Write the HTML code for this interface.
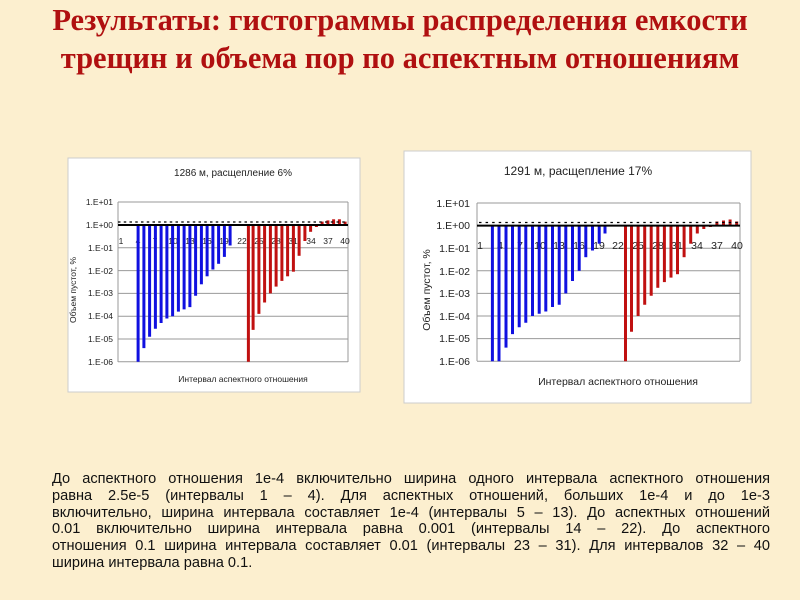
<!DOCTYPE html>
<html><head><meta charset="utf-8"><style>
body{margin:0;width:800px;height:600px;background:#fcefcf;position:relative;overflow:hidden;font-family:"Liberation Sans",sans-serif}
.t{position:absolute;left:0;width:800px;text-align:center;font-family:"Liberation Serif",serif;font-weight:bold;font-size:30.5px;color:#b01010;white-space:nowrap}
.p{position:absolute;left:52px;width:718px;top:471px;font-size:14.6px;line-height:16.8px;color:#111}
.p div{text-align:justify;text-align-last:justify;white-space:nowrap}
.p div.l{text-align-last:left}
svg{position:absolute;left:0;top:0}
</style></head><body>
<div class="t" style="top:3px">Результаты: гистограммы распределения емкости</div>
<div class="t" style="top:41px">трещин и объема пор по аспектным отношениям</div>
<svg width="800" height="600" font-family="Liberation Sans, sans-serif">
<rect x="68" y="158" width="292" height="234" fill="#fff" stroke="#ccc"/>
<text x="233" y="176" font-size="10" text-anchor="middle" fill="#222">1286 м, расщепление 6%</text>
<g stroke="#999" stroke-width="1">
<line x1="118" y1="202" x2="348" y2="202"/><line x1="118" y1="247.8" x2="348" y2="247.8"/><line x1="118" y1="270.6" x2="348" y2="270.6"/><line x1="118" y1="293.4" x2="348" y2="293.4"/><line x1="118" y1="316.2" x2="348" y2="316.2"/><line x1="118" y1="339" x2="348" y2="339"/><line x1="118" y1="361.8" x2="348" y2="361.8"/>
<line x1="348" y1="202" x2="348" y2="362"/><line x1="118" y1="202" x2="118" y2="362"/>
</g>
<g font-size="8.5" text-anchor="end" fill="#222">
<text x="113" y="205">1.E+01</text><text x="113" y="228">1.E+00</text><text x="113" y="251">1.E-01</text><text x="113" y="274">1.E-02</text><text x="113" y="296">1.E-03</text><text x="113" y="319">1.E-04</text><text x="113" y="342">1.E-05</text><text x="113" y="365">1.E-06</text>
</g>
<g font-size="8.5" text-anchor="middle" fill="#222">
<text x="121" y="244">1</text><text x="138" y="244">4</text><text x="155" y="244">7</text><text x="173" y="244">10</text><text x="190" y="244">13</text><text x="207" y="244">16</text><text x="224" y="244">19</text><text x="242" y="244">22</text><text x="259" y="244">25</text><text x="276" y="244">28</text><text x="293" y="244">31</text><text x="311" y="244">34</text><text x="328" y="244">37</text><text x="345" y="244">40</text>
</g>
<g stroke="#1010e0" stroke-width="3">
<line x1="138.1" y1="225" x2="138.1" y2="361.8"/><line x1="143.9" y1="225" x2="143.9" y2="348.1"/><line x1="149.6" y1="225" x2="149.6" y2="336.7"/><line x1="155.4" y1="225" x2="155.4" y2="328.7"/><line x1="161.1" y1="225" x2="161.1" y2="323"/><line x1="166.9" y1="225" x2="166.9" y2="318.5"/><line x1="172.6" y1="225" x2="172.6" y2="316.2"/><line x1="178.4" y1="225" x2="178.4" y2="311.6"/><line x1="184.1" y1="225" x2="184.1" y2="309.4"/><line x1="189.9" y1="225" x2="189.9" y2="307.1"/><line x1="195.6" y1="225" x2="195.6" y2="295.7"/><line x1="201.4" y1="225" x2="201.4" y2="284.3"/><line x1="207.1" y1="225" x2="207.1" y2="276.3"/><line x1="212.9" y1="225" x2="212.9" y2="269.5"/><line x1="218.6" y1="225" x2="218.6" y2="263.8"/><line x1="224.4" y1="225" x2="224.4" y2="256.9"/><line x1="230.1" y1="225" x2="230.1" y2="245.5"/>
</g>
<g stroke="#c01010" stroke-width="3">
<line x1="248.4" y1="225" x2="248.4" y2="361.8"/><line x1="253.1" y1="225" x2="253.1" y2="329.9"/><line x1="258.9" y1="225" x2="258.9" y2="313.9"/><line x1="264.6" y1="225" x2="264.6" y2="302.5"/><line x1="270.4" y1="225" x2="270.4" y2="293.4"/><line x1="276.1" y1="225" x2="276.1" y2="286.6"/><line x1="281.9" y1="225" x2="281.9" y2="280.9"/><line x1="287.6" y1="225" x2="287.6" y2="276.3"/><line x1="293.4" y1="225" x2="293.4" y2="271.7"/><line x1="299.1" y1="225" x2="299.1" y2="255.8"/><line x1="304.9" y1="225" x2="304.9" y2="241"/><line x1="310.6" y1="225" x2="310.6" y2="231.8"/><line x1="316.4" y1="225" x2="316.4" y2="227"/>
<line x1="322.1" y1="225" x2="322.1" y2="221.6"/><line x1="327.9" y1="225" x2="327.9" y2="220.4"/><line x1="333.6" y1="225" x2="333.6" y2="219.3"/><line x1="339.4" y1="225" x2="339.4" y2="219.3"/><line x1="345.1" y1="225" x2="345.1" y2="221.6"/>
</g>
<line x1="118" y1="225" x2="348" y2="225" stroke="#000" stroke-width="2"/>
<g stroke="#000" stroke-width="1.2" stroke-dasharray="2.5 3.25"><line x1="118" y1="222" x2="348" y2="222"/></g>
<text x="243" y="382" font-size="8.5" text-anchor="middle" fill="#222">Интервал аспектного отношения</text>
<text transform="translate(76,290) rotate(-90)" font-size="8.5" text-anchor="middle" fill="#222">Объем пустот, %</text>

<rect x="404" y="151" width="347" height="252" fill="#fff" stroke="#ccc"/>
<text x="578" y="175" font-size="12" text-anchor="middle" fill="#222">1291 м, расщепление 17%</text>
<g stroke="#999" stroke-width="1">
<line x1="477" y1="203" x2="740" y2="203"/><line x1="477" y1="248.2" x2="740" y2="248.2"/><line x1="477" y1="270.8" x2="740" y2="270.8"/><line x1="477" y1="293.4" x2="740" y2="293.4"/><line x1="477" y1="316" x2="740" y2="316"/><line x1="477" y1="338.6" x2="740" y2="338.6"/><line x1="477" y1="361.2" x2="740" y2="361.2"/>
<line x1="740" y1="203" x2="740" y2="361"/><line x1="477" y1="203" x2="477" y2="361"/>
</g>
<g font-size="10.5" text-anchor="end" fill="#222">
<text x="470" y="207">1.E+01</text><text x="470" y="229">1.E+00</text><text x="470" y="252">1.E-01</text><text x="470" y="275">1.E-02</text><text x="470" y="297">1.E-03</text><text x="470" y="320">1.E-04</text><text x="470" y="342">1.E-05</text><text x="470" y="365">1.E-06</text>
</g>
<g font-size="10.5" text-anchor="middle" fill="#222">
<text x="480" y="249">1</text><text x="500" y="249">4</text><text x="520" y="249">7</text><text x="540" y="249">10</text><text x="559" y="249">13</text><text x="579" y="249">16</text><text x="599" y="249">19</text><text x="618" y="249">22</text><text x="638" y="249">25</text><text x="658" y="249">28</text><text x="677" y="249">31</text><text x="697" y="249">34</text><text x="717" y="249">37</text><text x="737" y="249">40</text>
</g>
<g stroke="#1010e0" stroke-width="3">
<line x1="492.4" y1="225.6" x2="492.4" y2="361.2"/><line x1="499" y1="225.6" x2="499" y2="361.2"/><line x1="506" y1="225.6" x2="506" y2="347.6"/><line x1="512.5" y1="225.6" x2="512.5" y2="334.1"/><line x1="519.2" y1="225.6" x2="519.2" y2="327.3"/><line x1="525.8" y1="225.6" x2="525.8" y2="322.8"/><line x1="532.5" y1="225.6" x2="532.5" y2="316"/><line x1="539.2" y1="225.6" x2="539.2" y2="313.7"/><line x1="545.8" y1="225.6" x2="545.8" y2="311.5"/><line x1="552.5" y1="225.6" x2="552.5" y2="307"/><line x1="559.2" y1="225.6" x2="559.2" y2="304.7"/><line x1="565.8" y1="225.6" x2="565.8" y2="293.4"/><line x1="572.5" y1="225.6" x2="572.5" y2="281"/><line x1="579.2" y1="225.6" x2="579.2" y2="270.8"/><line x1="585.8" y1="225.6" x2="585.8" y2="257.2"/><line x1="592.5" y1="225.6" x2="592.5" y2="250.5"/><line x1="599.2" y1="225.6" x2="599.2" y2="243.7"/><line x1="605" y1="225.6" x2="605" y2="233.5"/>
</g>
<g stroke="#c01010" stroke-width="3">
<line x1="625.5" y1="225.6" x2="625.5" y2="361.2"/><line x1="631.5" y1="225.6" x2="631.5" y2="331.8"/><line x1="638.1" y1="225.6" x2="638.1" y2="316"/><line x1="644.7" y1="225.6" x2="644.7" y2="304.7"/><line x1="651.2" y1="225.6" x2="651.2" y2="295.7"/><line x1="657.8" y1="225.6" x2="657.8" y2="287.8"/><line x1="664.4" y1="225.6" x2="664.4" y2="282.1"/><line x1="671" y1="225.6" x2="671" y2="277.6"/><line x1="677.5" y1="225.6" x2="677.5" y2="274.2"/><line x1="684.1" y1="225.6" x2="684.1" y2="257.2"/><line x1="690.7" y1="225.6" x2="690.7" y2="243.7"/><line x1="697.3" y1="225.6" x2="697.3" y2="233.5"/><line x1="703.8" y1="225.6" x2="703.8" y2="229"/><line x1="710.4" y1="225.6" x2="710.4" y2="227"/>
<line x1="716.9" y1="225.6" x2="716.9" y2="221.5"/><line x1="723.5" y1="225.6" x2="723.5" y2="220.5"/><line x1="730.1" y1="225.6" x2="730.1" y2="219.5"/><line x1="736.7" y1="225.6" x2="736.7" y2="221.5"/>
</g>
<line x1="477" y1="225.6" x2="740" y2="225.6" stroke="#000" stroke-width="2"/>
<g stroke="#000" stroke-width="1.2" stroke-dasharray="2.5 4.07"><line x1="479" y1="222.5" x2="740" y2="222.5"/></g>
<text x="618" y="385" font-size="10.5" text-anchor="middle" fill="#222">Интервал аспектного отношения</text>
<text transform="translate(430,290) rotate(-90)" font-size="10.5" text-anchor="middle" fill="#222">Объем пустот, %</text>
</svg>
<div class="p">
<div>До аспектного отношения 1е-4 включительно ширина одного интервала аспектного отношения</div>
<div>равна 2.5е-5 (интервалы 1 – 4). Для аспектных отношений, больших 1е-4 и до 1е-3</div>
<div>включительно, ширина интервала составляет 1е-4 (интервалы 5 – 13). До аспектных отношений</div>
<div>0.01 включительно ширина интервала равна 0.001 (интервалы 14 – 22). До аспектного</div>
<div>отношения 0.1 ширина интервала составляет 0.01 (интервалы 23 – 31). Для интервалов 32 – 40</div>
<div class="l">ширина интервала равна 0.1.</div>
</div>
</body></html>
